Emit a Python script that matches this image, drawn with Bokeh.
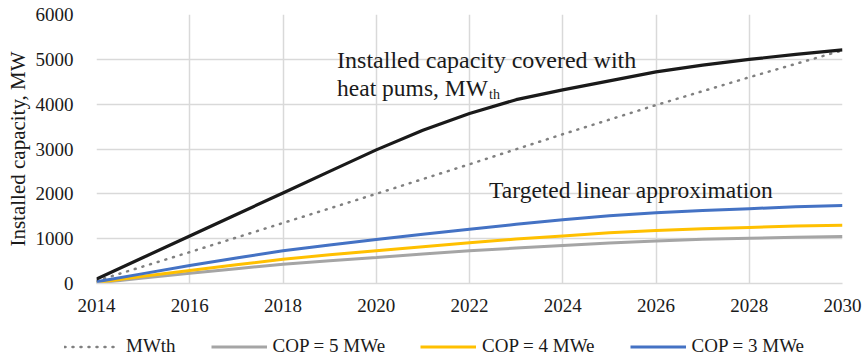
from bokeh.plotting import figure
from bokeh.layouts import column
from bokeh.models import ColumnDataSource, FixedTicker, Label, Legend, LegendItem
from bokeh.embed import file_html
from bokeh.resources import INLINE

years = list(range(2014, 2031))
mwth_installed = [100, 580, 1060, 1540, 2020, 2500, 2980, 3420, 3790, 4100, 4320,
                  4520, 4720, 4870, 5000, 5110, 5210]
target_years = [2014, 2016, 2018, 2020, 2022, 2024, 2026, 2028, 2030]
mwth_target = [60, 700, 1350, 2000, 2660, 3330, 3980, 4600, 5200]
cop5 = [10, 120, 230, 330, 430, 510, 580, 660, 730, 790, 850, 905, 950, 985, 1010, 1030, 1050]
cop4 = [20, 160, 290, 420, 540, 640, 730, 820, 910, 990, 1060, 1130, 1180, 1220, 1250, 1280, 1300]
cop3 = [40, 220, 400, 570, 730, 860, 980, 1100, 1210, 1320, 1420, 1510, 1580, 1630, 1670, 1710, 1740]
x_ticks = list(range(2014, 2031, 2))
y_ticks = list(range(0, 6001, 1000))
legend_labels = ["MWth", "COP = 5 MWe", "COP = 4 MWe", "COP = 3 MWe"]

FONT = "'Liberation Serif', 'Times New Roman', serif"
TXT = "#1a1a1a"
GRID = "#d9d9d9"
STYLES = [
    dict(line_color="#808080", line_width=2.5, line_dash="1 7", line_cap="round"),
    dict(line_color="#A5A5A5", line_width=3),
    dict(line_color="#FFC000", line_width=3),
    dict(line_color="#4472C4", line_width=3),
]

p = figure(frame_width=746, frame_height=269, output_backend="svg", toolbar_location=None,
           x_range=(2014, 2030), y_range=(0, 6000),
           min_border_left=96, min_border_right=25, min_border_top=14, min_border_bottom=52)
p.outline_line_color = None
p.background_fill_color = "white"

p.xaxis.ticker = FixedTicker(ticks=x_ticks)
p.yaxis.ticker = FixedTicker(ticks=y_ticks)
for ax in (p.xaxis[0], p.yaxis[0]):
    ax.major_label_text_font = FONT
    ax.major_label_text_font_size = "19px"
    ax.major_label_text_color = TXT
    ax.major_tick_line_color = None
    ax.minor_tick_line_color = None
p.xaxis.axis_line_color = GRID
p.xaxis.axis_line_width = 1.5
p.yaxis.axis_line_color = None
p.xaxis.major_label_standoff = 9
p.yaxis.major_label_standoff = 17
p.yaxis.axis_label = "Installed capacity, MW"
p.yaxis.axis_label_text_font = FONT
p.yaxis.axis_label_text_font_size = "21px"
p.yaxis.axis_label_text_font_style = "normal"
p.yaxis.axis_label_text_color = TXT
p.yaxis.axis_label_standoff = 3

p.xgrid.grid_line_color = GRID
p.ygrid.grid_line_color = GRID
p.xgrid.grid_line_width = 1.5
p.ygrid.grid_line_width = 1.5

src = ColumnDataSource(dict(year=years, mwth=mwth_installed, cop5=cop5, cop4=cop4, cop3=cop3))
tsrc = ColumnDataSource(dict(year=target_years, mwth=mwth_target))

p.line("year", "mwth", source=tsrc, **STYLES[0])
p.line("year", "cop5", source=src, **STYLES[1])
p.line("year", "cop4", source=src, **STYLES[2])
p.line("year", "cop3", source=src, **STYLES[3])
p.line("year", "mwth", source=src, line_color="#1a1a1a", line_width=3.2)

ann = dict(text_font=FONT, text_color=TXT, text_baseline="alphabetic", text_align="left")
p.add_layout(Label(x=2019.16, y=4980, text="Installed capacity covered with",
                   text_font_size="24px", **ann))
p.add_layout(Label(x=2019.16, y=4350, text="heat pums, MW", text_font_size="23.5px", **ann))
p.add_layout(Label(x=2019.16, y=4350, x_offset=152, y_offset=-6, text="th",
                   text_font_size="14px", **ann))
p.add_layout(Label(x=2022.42, y=2085, text="Targeted linear approximation",
                   text_font_size="23.5px", **ann))

# legend strip below the chart (its own frame shows no data: ranges lie outside the data)
lg = figure(width=867, height=23, output_backend="svg", toolbar_location=None,
            x_axis_type=None, y_axis_type=None, x_range=(0, 1), y_range=(0, 1),
            min_border=0)
lg.outline_line_color = None
lg.grid.visible = False
unaligned = True
try:
    lg.frame_align = False
except Exception:
    unaligned = False

leg_sources = [(tsrc, "mwth"), (src, "cop5"), (src, "cop4"), (src, "cop3")]
items = []
for lab, st, (s, col) in zip(legend_labels, STYLES, leg_sources):
    r = lg.line("year", col, source=s, **st)
    items.append(LegendItem(label=lab, renderers=[r]))

if unaligned:
    loc, gw, sp = (64, 1), 56, 35
else:
    loc, gw, sp = (0, 1), 52, 31
legend = Legend(items=items, orientation="horizontal", location=loc)
legend.label_text_font = FONT
legend.label_text_font_size = "19px"
legend.label_text_color = TXT
legend.glyph_width = gw
legend.spacing = sp
legend.label_standoff = 6
legend.label_height = 19
legend.glyph_height = 19
legend.border_line_color = None
legend.background_fill_alpha = 0
legend.padding = 0
legend.margin = 0
lg.add_layout(legend)

layout = column(p, lg, spacing=0)
open("out.html", "w").write(file_html(layout, INLINE))
